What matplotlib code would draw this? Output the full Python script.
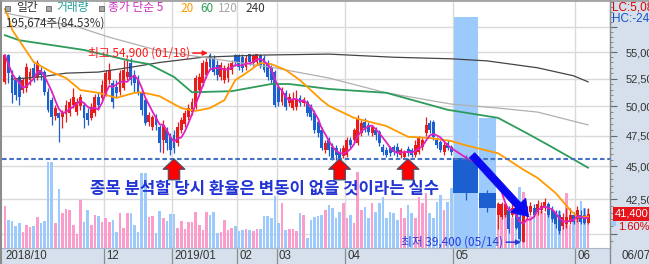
import numpy as np
import pandas as pd
import matplotlib
matplotlib.use("Agg")
import matplotlib.pyplot as plt
from matplotlib.lines import Line2D
from matplotlib.patches import Rectangle
from matplotlib.ticker import FixedLocator, NullFormatter
from matplotlib.transforms import blended_transform_factory

plt.rcParams["font.family"] = ["Noto Sans CJK KR", "DejaVu Sans"]

# daily candles, 2018/10 ~ 2019/06/07 (won)
opens = [52200, 54700, 52800, 52350, 52650, 51450, 51650, 52350, 53500, 52650,
         53300, 53100, 51250, 50550, 49150, 49400, 49100, 49350, 49400, 50100,
         49500, 50050, 50100, 49400, 49000, 49400, 50800, 50750, 51200, 52350,
         52100, 51750, 51250, 51650, 52650, 53950, 52800, 52550, 51200, 50550,
         48650, 48200, 49100, 48200, 47150, 47950, 47400, 47550, 46900, 47950,
         48500, 49100, 49500, 49950, 51450, 52100, 52800, 54700, 54400, 53750,
         52650, 52350, 52550, 53300, 54700, 54700, 54500, 53550, 54850, 53950,
         54050, 54700, 54400, 53950, 53500, 53100, 51750, 50400, 51200, 50300,
         49850, 49950, 50750, 50300, 50400, 49950, 49400, 48650, 47950, 46300,
         47150, 46550, 46500, 46150, 45850, 45900, 47150, 47150, 46900, 47700,
         48650, 48400, 47700, 47950, 47800, 46550, 46300, 46500, 46550, 46550,
         45900, 45750, 46400, 46300, 45900, 46150, 46550, 47700, 48550, 48650,
         47150, 46950, 46150, 46900, 46550, 45650, 42950, 41350, 41200, 41350,
         41700, 41350, 41550, 41200, 39400, 41300, 41550, 41850, 41550, 41700,
         41850, 42100, 41700, 41500, 41350, 40550, 40650, 40850, 41350, 41000,
         41350, 41350, 40750]
highs = [54800, 54800, 53300, 52550, 52800, 52550, 53950, 53500, 53950, 54250,
         53550, 53300, 51650, 50800, 50100, 49500, 49700, 50550, 50750, 51650,
         50750, 51100, 50400, 49850, 50300, 51100, 51200, 52350, 53300, 53950,
         52350, 52350, 53300, 54250, 54250, 54400, 53300, 52800, 51450, 50750,
         49500, 49250, 49350, 48400, 48800, 48200, 47700, 47950, 48650, 49100,
         49700, 50200, 50750, 52800, 53000, 54250, 54400, 54900, 54700, 54250,
         54050, 53750, 53950, 54250, 54850, 54850, 54800, 54700, 54850, 54850,
         54850, 54850, 54700, 54250, 53750, 53300, 51900, 51750, 51450, 51200,
         51250, 51450, 51000, 50800, 50550, 50200, 49700, 49000, 48200, 47150,
         47400, 46900, 46700, 46500, 46700, 47400, 47400, 48150, 49250, 48800,
         49000, 48650, 48400, 48200, 47950, 46800, 46550, 46650, 46700, 46900,
         46500, 46300, 46650, 46500, 47150, 47450, 47300, 49100, 48800, 48800,
         47400, 47150, 46950, 47150, 46700, 45900, 43200, 42250, 42250, 42300,
         41950, 42100, 41850, 41500, 41500, 41950, 42250, 42100, 42450, 42250,
         42600, 42250, 41950, 41700, 41700, 41500, 41850, 41850, 41550, 41950,
         41700, 41850, 41850]
lows = [52000, 52100, 50300, 50550, 50100, 51200, 51250, 51900, 52200, 52350,
        52350, 51000, 49500, 48400, 48800, 46950, 48150, 48650, 49150, 49850,
        49250, 49700, 48150, 48400, 48800, 49150, 49700, 50550, 50900, 52000,
        49850, 50750, 51000, 51450, 52350, 51900, 51250, 51000, 49250, 48400,
        48300, 47950, 47950, 46150, 46100, 46300, 45900, 46100, 46650, 47700,
        48200, 48800, 49250, 49750, 51200, 51800, 52550, 53300, 52800, 52350,
        52350, 52100, 52200, 52900, 53650, 53300, 53100, 53300, 53750, 53650,
        53750, 53500, 53100, 52350, 52100, 49950, 50050, 50100, 49700, 50050,
        49700, 49700, 50050, 50050, 49150, 48800, 47700, 47400, 46300, 46100,
        45850, 45500, 45500, 45350, 45650, 45750, 46500, 46950, 46700, 47450,
        47800, 47550, 47450, 47150, 46650, 45900, 45750, 45850, 45900, 45750,
        45650, 45650, 45850, 45750, 45750, 46000, 46300, 47450, 47700, 47150,
        46500, 46150, 45900, 46300, 45900, 42450, 41550, 40300, 41000, 41150,
        40050, 41150, 40300, 39450, 39400, 41000, 41350, 41150, 41350, 41500,
        41650, 41150, 40800, 40400, 39950, 40300, 40400, 40650, 40650, 40800,
        40650, 40650, 40650]
closes = [54700, 53000, 51200, 51000, 50800, 52350, 53550, 53100, 52550, 53950,
          52800, 51250, 49700, 49100, 49850, 49000, 49500, 50100, 50400, 50800,
          50400, 50800, 49000, 48800, 49950, 50800, 50100, 51900, 53000, 53300,
          50400, 51200, 53000, 53300, 53100, 52350, 52100, 51200, 49700, 48550,
          49250, 49100, 48400, 46900, 48400, 46900, 46300, 46500, 48200, 48800,
          49400, 49850, 50400, 52550, 52650, 53950, 54050, 53550, 53100, 52800,
          53750, 53500, 53550, 53950, 54050, 53550, 53500, 54400, 54050, 54700,
          54800, 53750, 53300, 52650, 52350, 50100, 50400, 51450, 49950, 50800,
          50550, 50550, 50300, 50550, 49400, 49100, 47950, 47700, 46500, 46900,
          46300, 45650, 45900, 45650, 46500, 47150, 46700, 47950, 49000, 48550,
          48150, 47800, 48200, 47550, 46900, 46150, 45900, 46100, 46150, 46100,
          46300, 46150, 46100, 45900, 46700, 47300, 47150, 48400, 47950, 47400,
          46700, 46300, 46700, 46500, 46150, 42950, 41850, 42100, 42100, 42100,
          40300, 41850, 40400, 39600, 41350, 41700, 41950, 41350, 42100, 42000,
          42300, 41350, 41000, 40650, 40150, 41200, 41200, 41350, 40850, 41700,
          40850, 40750, 41400]
# volume, thousand shares
volumes = [210, 140, 135, 110, 125, 80, 115, 105, 110, 155, 125, 135, 430, 430, 125, 295,
           175, 195, 190, 115, 70, 240, 130, 190, 115, 165, 160, 130,
           150, 130, 140, 80, 175, 100, 175, 175, 115, 80, 375, 375, 155, 160, 75, 185,
           150, 135, 170, 170,
           100, 135, 95, 130, 130, 180, 115, 90, 180, 165, 180, 75, 80, 140, 90, 100,
           110, 85, 90, 95,
           90, 85, 95, 95, 160, 160, 150, 260, 125, 225, 90, 95, 95, 85, 175, 165, 50,
           140, 155, 160, 165,
           190, 215, 200, 150, 180, 225, 150, 165, 125, 380, 190, 205, 150, 225, 180,
           225, 255, 150, 180, 175, 140, 200, 150, 215, 175, 150, 255, 225, 275, 175,
           150, 230, 265, 190, 230, 300,
           1155, 650,
           225, 215, 180, 200, 150, 230, 305, 280, 150, 160, 200, 210, 185, 175, 165,
           200, 170, 185, 150, 275, 115, 150, 175, 235, 200, 196]

# moving averages (candle index, price)
ma20_idx = [0, 1, 2, 8, 13, 17, 21, 26, 31, 36, 38, 43, 49, 53, 57, 61, 64, 67, 71, 74,
            78, 82, 88, 90, 97, 106, 112, 118, 124, 125, 127, 130, 134, 138, 143, 147, 149, 152]
ma20 = [59300, 58500, 57200, 54050, 53100, 52550, 51450, 51200, 50750, 51200,
        51250, 50900, 49850, 49600, 49850, 50550, 52350, 53000, 53950, 53850,
        53300, 52350, 50550, 50050, 49000, 48300, 47400, 47300, 47050, 46700,
        46050, 45500, 44750, 44100, 42950, 41700, 41200, 41200]
ma60_idx = [0, 4, 22, 35, 40, 47, 52, 63, 74, 79, 90, 106, 123, 127, 135, 142, 152]
ma60 = [56650, 56150, 55200, 54150, 53850, 52650, 51250, 51350, 52000, 52000,
        51550, 51200, 49700, 49000, 47700, 46550, 44900]
ma120_idx = [0, 20, 29, 42, 51, 74, 90, 106, 124, 127, 138, 152]
ma120 = [58900, 57500, 56450, 55200, 54700, 53550, 52550, 51200, 50200, 49850, 49500, 48400]
ma240_idx = [2, 10, 17, 26, 35, 43, 55, 70, 90, 108, 124, 126, 138, 148, 152]
ma240 = [52450, 52650, 53000, 53100, 53550, 54000, 54500, 54700, 54800, 54500,
         54350, 54150, 53500, 52750, 52200]

month_labels = ["2018/10", "12", "2019/01", "02", "03", "04", "05", "06"]
month_starts = [0, 28, 47, 65, 76, 95, 125, 149]
support = 45600
support_hits = [47, 93, 112]

# the two early-May candles are drawn wide in the original screen
spans = {125: 7, 126: 5}

RED, BLUE = "#e81c1c", "#1b5fd1"
PINK, SKY = "#fc9ccb", "#9ccafc"
PANEL = "#d5e0ec"
W, H = 649, 264

o, h, l, c = (np.array(a, float) for a in (opens, highs, lows, closes))
n = len(c)
widths = np.array([spans.get(i, 1) for i in range(n)], float)
left = np.concatenate([[0], np.cumsum(widths)[:-1]])
xc = left + widths / 2
up = c >= o


def fxy(px, py):
    return px / W, 1 - py / H


fig = plt.figure(figsize=(W / 100, H / 100), dpi=100, facecolor=PANEL)
x0, y0 = fxy(2, 248)
x1, y1 = fxy(610, 1)
rect = [x0, y0, x1 - x0, y1 - y0]
axv = fig.add_axes(rect)
ax = fig.add_axes(rect, sharex=axv)
ax.patch.set_visible(False)
axv.set_facecolor("white")
axv.set_xlim(-0.28, 168.6)
axv.set_ylim(0, 1235)
for s in axv.spines.values():
    s.set_visible(False)
axv.set_xticks([])
axv.set_yticks([])

ax.set_yscale("log")
ax.set_ylim(39000, 60150)

# grid behind the volume bars
levels = list(range(40000, 57501, 2500))
tr = blended_transform_factory(axv.transAxes, ax.transData)
for p in levels:
    axv.plot([0, 1], [p, p], transform=tr, color="#dadada", lw=1, zorder=0)
for m in month_starts[1:]:
    axv.axvline(left[m], color="#dadada", lw=1, zorder=0)
    ax.axvline(left[m], ymin=-16 / 247, ymax=0, clip_on=False, color="#8c8c8c", lw=0.9)

# volume
body_w = widths - 0.18
axv.bar(xc, volumes, width=widths - 0.28, color=np.where(up, PINK, SKY), zorder=2)

# candles
col = np.where(up, RED, BLUE)
ax.vlines(xc, l, h, colors=col, lw=0.9, zorder=3)
ax.bar(xc, np.maximum(np.abs(c - o), 40), bottom=np.minimum(o, c), width=body_w,
       color=col, zorder=4)

# moving averages
ma5 = pd.Series(c).rolling(5, min_periods=1).mean()
ax.plot(xc[ma240_idx], ma240, color="#444444", lw=0.9, zorder=5)
ax.plot(xc[ma120_idx], ma120, color="#b0b0b0", lw=0.9, zorder=5)
ax.plot(xc[ma60_idx], ma60, color="#2e9b5b", lw=1.3, zorder=5)
ax.plot(xc[ma20_idx], ma20, color="#ff9a00", lw=1.3, zorder=5)
ax.plot(xc, ma5, color="#e021c0", lw=1.3, zorder=6)

ax.axhline(support, color="#4472c4", lw=1.5, ls=(0, (2.2, 1.3)), zorder=7)

# axes frame and right price scale
for side in ("left", "top"):
    ax.spines[side].set_visible(False)
ax.spines["right"].set_color("#8c8c8c")
ax.spines["bottom"].set_color("#a9b7c8")
ax.set_xticks([])
ax.yaxis.tick_right()
ax.yaxis.set_major_locator(FixedLocator(levels))
ax.set_yticklabels(["" if p in (40000, 57500) else f"{p:,}" for p in levels],
                   fontfamily="Liberation Sans", fontsize=8, color="#333333")
ax.yaxis.set_minor_locator(FixedLocator(range(39500, 60001, 500)))
ax.yaxis.set_minor_formatter(NullFormatter())
ax.tick_params(axis="y", which="major", length=5, color="#666666", pad=6)
ax.tick_params(axis="y", which="minor", length=2.5, color="#777777")

for m, lab in zip(month_starts, month_labels):
    ax.annotate(lab, xy=(left[m], 0), xycoords=("data", "axes fraction"),
                xytext=(2, -8), textcoords="offset pixels", ha="left", va="center",
                fontfamily="Liberation Sans", fontsize=8.3, color="#333333",
                annotation_clip=False)

# highest / lowest notes
hi = int(np.argmax(h))
lo = int(np.argmin(l))
for i, price, text, color in [(hi, h[hi], "최고 54,900 (01/18)", "#ff1a1a"),
                              (lo, l[lo], "최저 39,400 (05/14)", "#2a3ad8")]:
    tip = (xc[i] - 0.6, price)
    ax.annotate("", xy=tip, xytext=(-15, 0), textcoords="offset pixels",
                arrowprops=dict(arrowstyle="-|>", color=color, lw=1.1,
                                mutation_scale=7, shrinkA=0, shrinkB=0), zorder=8)
    ax.annotate(text, xy=tip, xytext=(-18, 0), textcoords="offset pixels",
                ha="right", va="center", color=color, fontsize=8.5, zorder=8)

# support bounces
for i in support_hits:
    ax.annotate("", xy=(xc[i], support), xytext=(0, -21), textcoords="offset pixels",
                arrowprops=dict(arrowstyle="simple,head_length=0.5,head_width=1.05,tail_width=0.55",
                                mutation_scale=15, fc="#ff0000", ec="#3d5270", lw=0.8,
                                shrinkA=0, shrinkB=0), zorder=9)

# the breakdown arrow
ax.annotate("", xy=(xc[lo] + 1.5, 41200), xytext=(xc[125] + 1.8, 45900),
            arrowprops=dict(arrowstyle="simple,head_length=0.75,head_width=1.0,tail_width=0.35",
                            mutation_scale=15, fc="#0a0af0", ec="#0a0af0", lw=0.5,
                            shrinkA=0, shrinkB=0), zorder=9)

fig.text(*fxy(265, 189), "종목 분석할 당시 환율은 변동이 없을 것이라는 실수",
         ha="center", va="center", fontsize=12, fontweight="bold", color="#2235d4")

# header
for px in (5, 46, 99):
    fig.add_artist(Rectangle(fxy(px, 11), 5 / W, 5 / H, transform=fig.transFigure,
                             fc="#a8a8a8", ec="#666666", lw=0.6))
for px, text, color in [(16, "일간", "#333333"), (56, "거래량", "#1f9e99"),
                        (108, "종가 단순 5", "#d030c0"), (180, "20", "#ff9900"),
                        (200, "60", "#2e9b5b"), (218, "120", "#a8a8a8"),
                        (245, "240", "#333333")]:
    fig.text(*fxy(px, 8), text, ha="left", va="center", fontsize=8.5, color=color)
fig.text(*fxy(5, 23), "195,674주(84.53%)", ha="left", va="center", fontsize=8.3,
         color="#333333")

# right panel texts
fig.text(*fxy(612, 7), "LC:5,080", ha="left", va="center", fontsize=8.5,
         fontfamily="Liberation Sans", color="#e00000")
fig.text(*fxy(612, 19), "HC:-24.56%", ha="left", va="center", fontsize=8.5,
         fontfamily="Liberation Sans", color="#1450c8")
ax.annotate(f"{int(c[-1]):,}", xy=(1, c[-1]), xycoords=("axes fraction", "data"),
            xytext=(5, 0), textcoords="offset pixels", ha="left", va="center",
            fontfamily="Liberation Sans", fontsize=8, color="white",
            bbox=dict(boxstyle="square,pad=0.2", fc="#e8141c", ec="none"),
            annotation_clip=False, zorder=10)
chg = (c[-1] / c[-2] - 1) * 100
ax.annotate(f"{chg:.2f}%", xy=(1, c[-1]), xycoords=("axes fraction", "data"),
            xytext=(8, -13), textcoords="offset pixels", ha="left", va="center",
            fontfamily="Liberation Sans", fontsize=8, color="#e00000",
            annotation_clip=False)
fig.add_artist(Rectangle(fxy(612, 226), 4 / W, 5 / H, transform=fig.transFigure,
                         fc=SKY, ec="none"))
fig.text(*fxy(622, 256), "06/07", ha="left", va="center", fontsize=8.3,
         fontfamily="Liberation Sans", color="#333333")

# outer frame lines
fig.add_artist(Line2D([fxy(610, 0)[0]] * 2, [0, 1], transform=fig.transFigure,
                      color="#8c8c8c", lw=1))
fig.add_artist(Line2D([fxy(1, 0)[0]] * 2, [0, 1], transform=fig.transFigure,
                      color="#8c8c8c", lw=1.5))
fig.add_artist(Line2D([0, 1], [fxy(0, 0.5)[1]] * 2, transform=fig.transFigure,
                      color="#9a9a9a", lw=1.2))

fig.savefig("out.png", dpi=100, facecolor=PANEL)
